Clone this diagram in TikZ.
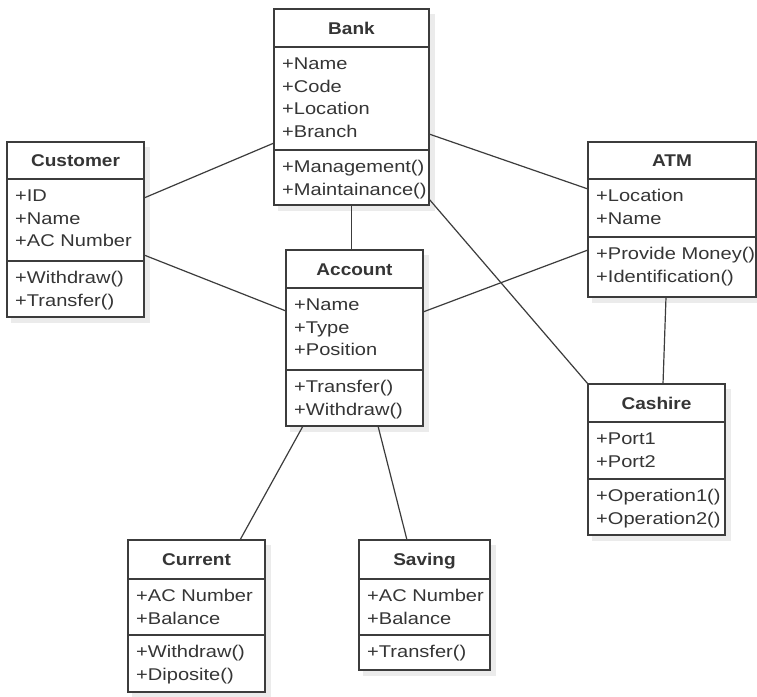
\documentclass[tikz,border=0pt]{standalone}
\usepackage{fontspec}
\setmainfont{Liberation Sans}[FakeStretch=1.18]
\newfontfamily\ttlfont{Liberation Sans}[FakeStretch=1.12]
\definecolor{linec}{HTML}{3C3C3C}
\definecolor{txt}{HTML}{353535}
\definecolor{shad}{HTML}{EBEBEB}
\tikzset{
  cls/.style={draw=linec, line width=1.4pt, fill=white, inner sep=0pt, outer sep=0pt, anchor=north west},
  shadowbox/.style={fill=shad, draw=none},
  divider/.style={draw=linec, line width=1.4pt},
  ttl/.style={font=\ttlfont\bfseries\fontsize{17}{20}\selectfont, text=txt, anchor=base, inner sep=0pt},
  mem/.style={font=\fontsize{17}{22.7}\selectfont, text=txt, anchor=base west, inner sep=0pt, text width=190pt, align=left},
  conn/.style={draw=linec, line width=1.2pt}
}
\begin{document}
\begin{tikzpicture}[x=1pt,y=-1pt]
\useasboundingbox[fill=white] (0,0) rectangle (757,696);

% shadows
\foreach \l/\t/\r/\b in {274/9/429/205, 7/142/144/317, 588/142/756/297, 286/250/423/426, 588/384/725/535, 128/540/265/692, 359/540/490/670}{
  \fill[shadowbox] (\l+4,\t+5) rectangle (\r+6,\b+6);
}

% Bank
\node[cls, minimum width=155pt, minimum height=196pt] (bank) at (274,9) {};
\draw[divider] (274,47) -- (429,47);
\draw[divider] (274,150) -- (429,150);
\node[ttl] (bank-t) at (351.5,34) {Bank};
\node[mem] (bank-a) at (282,69.5) {+Name\\+Code\\+Location\\+Branch};
\node[mem] (bank-m) at (282,172.5) {+Management()\\+Maintainance()};

% Customer
\node[cls, minimum width=137pt, minimum height=175pt] (customer) at (7,142) {};
\draw[divider] (7,179) -- (144,179);
\draw[divider] (7,261) -- (144,261);
\node[ttl] (customer-t) at (75.5,166.5) {Customer};
\node[mem] (customer-a) at (15,201.5) {+ID\\+Name\\+AC Number};
\node[mem] (customer-m) at (15,283.5) {+Withdraw()\\+Transfer()};

% ATM
\node[cls, minimum width=168pt, minimum height=155pt] (atm) at (588,142) {};
\draw[divider] (588,179) -- (756,179);
\draw[divider] (588,237) -- (756,237);
\node[ttl] (atm-t) at (672,166.5) {ATM};
\node[mem] (atm-a) at (596,201.5) {+Location\\+Name};
\node[mem] (atm-m) at (596,259.5) {+Provide Money()\\+Identification()};

% Account
\node[cls, minimum width=137pt, minimum height=176pt] (account) at (286,250) {};
\draw[divider] (286,288) -- (423,288);
\draw[divider] (286,370) -- (423,370);
\node[ttl] (account-t) at (354.5,275) {Account};
\node[mem] (account-a) at (294,310.5) {+Name\\+Type\\+Position};
\node[mem] (account-m) at (294,392.5) {+Transfer()\\+Withdraw()};

% Cashire
\node[cls, minimum width=137pt, minimum height=151pt] (cashire) at (588,384) {};
\draw[divider] (588,422) -- (725,422);
\draw[divider] (588,479) -- (725,479);
\node[ttl] (cashire-t) at (656.5,409) {Cashire};
\node[mem] (cashire-a) at (596,444.5) {+Port1\\+Port2};
\node[mem] (cashire-m) at (596,501.5) {+Operation1()\\+Operation2()};

% Current
\node[cls, minimum width=137pt, minimum height=152pt] (current) at (128,540) {};
\draw[divider] (128,579) -- (265,579);
\draw[divider] (128,635) -- (265,635);
\node[ttl] (current-t) at (196.5,565.5) {Current};
\node[mem] (current-a) at (136,601.5) {+AC Number\\+Balance};
\node[mem] (current-m) at (136,657.5) {+Withdraw()\\+Diposite()};

% Saving
\node[cls, minimum width=131pt, minimum height=130pt] (saving) at (359,540) {};
\draw[divider] (359,579) -- (490,579);
\draw[divider] (359,635) -- (490,635);
\node[ttl] (saving-t) at (424.5,565.5) {Saving};
\node[mem] (saving-a) at (367,601.5) {+AC Number\\+Balance};
\node[mem] (saving-m) at (367,657.5) {+Transfer()};

% connectors
\draw[conn] ([yshift=-56pt]customer.north east) -- ([yshift=-134pt]bank.north west);
\draw[conn] ([yshift=-113pt]customer.north east) -- ([yshift=-61pt]account.north west);
\draw[conn] (bank.south) -- (bank.south |- account.north);
\draw[conn] ([yshift=-125pt]bank.north east) -- ([yshift=-47pt]atm.north west);
\draw[conn] ([yshift=-190pt]bank.north east) -- (cashire.north west);
\draw[conn] ([yshift=-62pt]account.north east) -- ([yshift=-108pt]atm.north west);
\draw[conn] ([xshift=78pt]atm.south west) -- ([xshift=75pt]cashire.north west);
\draw[conn] ([xshift=17pt]account.south west) -- ([xshift=112pt]current.north west);
\draw[conn] ([xshift=92pt]account.south west) -- ([xshift=48pt]saving.north west);
\end{tikzpicture}
\end{document}
